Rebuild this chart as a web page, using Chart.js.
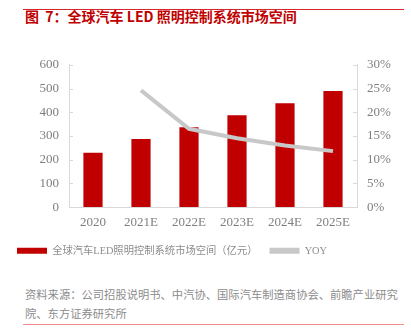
<!DOCTYPE html>
<html>
<head>
<meta charset="utf-8">
<script src="https://cdn.jsdelivr.net/npm/chart.js@4/dist/chart.umd.min.js"></script>
<style>
  html, body { margin: 0; padding: 0; background: #fff; }
  #wrap { position: relative; width: 411px; height: 334px; overflow: hidden; }
  #topline { position: absolute; left: 23px; top: 9px; width: 381px; height: 1px; background: #d9262e; }
  #title { position: absolute; left: 25px; top: 6px; font: bold 14px "Noto Sans CJK SC", sans-serif; color: #c00000; white-space: pre; }
  #box { position: absolute; left: 0; top: 47px; width: 411px; height: 219px; }
  #source { position: absolute; left: 25px; top: 285px; width: 385px; font: 11.3px/19px "Noto Sans CJK SC", sans-serif; color: #8c8c8c; }
  #bottomline { position: absolute; left: 23px; top: 324px; width: 381px; height: 1px; background: #f08c8c; }
</style>
</head>
<body>
<div id="wrap">
  <div id="topline"></div>
  <div id="title">图  7：全球汽车 LED 照明控制系统市场空间</div>
  <div id="box"><canvas id="chart"></canvas></div>
  <div id="source">资料来源：公司招股说明书、中汽协、国际汽车制造商协会、前瞻产业研究院、东方证券研究所</div>
  <div id="bottomline"></div>
</div>
<script>
var years = ["2020", "2021E", "2022E", "2023E", "2024E", "2025E"];
var marketSize = [229, 287, 337, 387, 438, 490];
var yoy = [null, 24.6, 16.5, 14.5, 13.0, 11.8];
var leftTicks = [0, 100, 200, 300, 400, 500, 600];
var rightTicks = [0, 5, 10, 15, 20, 25, 30];

var axisColor = '#d9d9d9';
var tickFont = { family: '"Liberation Serif", "Noto Sans CJK SC", serif', size: 13 };

// short tick marks pointing into the plot, like the original
var innerTicks = {
    id: 'innerTicks',
    afterDraw: function (chart) {
        var ctx = chart.ctx;
        var area = chart.chartArea;
        ctx.save();
        ctx.strokeStyle = axisColor;
        ctx.lineWidth = 1;
        leftTicks.forEach(function (v) {
            var y = Math.round(chart.scales.y.getPixelForValue(v)) + 0.5;
            ctx.beginPath();
            ctx.moveTo(area.left, y);
            ctx.lineTo(area.left + 4, y);
            ctx.stroke();
        });
        rightTicks.forEach(function (v) {
            var y = Math.round(chart.scales.y1.getPixelForValue(v)) + 0.5;
            ctx.beginPath();
            ctx.moveTo(area.right, y);
            ctx.lineTo(area.right - 4, y);
            ctx.stroke();
        });
        ctx.restore();
    }
};

new Chart(document.getElementById('chart'), {
    type: 'bar',
    data: {
        labels: years,
        datasets: [{
            label: '全球汽车LED照明控制系统市场空间（亿元）',
            data: marketSize,
            backgroundColor: '#c00000',
            borderWidth: 0,
            categoryPercentage: 1,
            barPercentage: 0.4,
            yAxisID: 'y',
            order: 2
        }, {
            type: 'line',
            label: 'YOY',
            data: yoy,
            borderColor: '#c8c8c8',
            backgroundColor: '#c8c8c8',
            borderWidth: 4,
            pointRadius: 0,
            tension: 0,
            yAxisID: 'y1',
            order: 1
        }]
    },
    options: {
        responsive: true,
        maintainAspectRatio: false,
        animation: false,
        layout: { padding: { left: 5, right: 0, top: 5, bottom: 0 } },
        plugins: {
            tooltip: { enabled: false },
            legend: {
                position: 'bottom',
                align: 'start',
                labels: {
                    boxWidth: 30,
                    boxHeight: 6,
                    padding: 12,
                    color: '#8c8c8c',
                    font: { family: '"Liberation Serif", "Noto Sans CJK SC", serif', size: 10.3 },
                    generateLabels: function (chart) {
                        return chart.data.datasets.map(function (ds, i) {
                            return {
                                text: ds.label,
                                fillStyle: i === 0 ? '#c00000' : '#c8c8c8',
                                strokeStyle: 'transparent',
                                lineWidth: 0,
                                datasetIndex: i,
                                fontColor: '#8c8c8c'
                            };
                        });
                    }
                }
            }
        },
        scales: {
            x: {
                grid: { display: false, drawTicks: false },
                border: { color: axisColor },
                afterFit: function (axis) { axis.height -= 5; },
                ticks: { color: '#7f7f7f', font: tickFont, padding: 8 }
            },
            y: {
                position: 'left',
                min: 0,
                max: 600,
                grid: { display: false, drawTicks: false },
                border: { color: axisColor },
                afterBuildTicks: function (axis) {
                    axis.ticks = leftTicks.map(function (v) { return { value: v }; });
                },
                afterFit: function (axis) { axis.width = 64; },
                ticks: { color: '#7f7f7f', font: tickFont, padding: 10, autoSkip: false }
            },
            y1: {
                position: 'right',
                min: 0,
                max: 30,
                grid: { display: false, drawTicks: false },
                border: { color: axisColor },
                afterBuildTicks: function (axis) {
                    axis.ticks = rightTicks.map(function (v) { return { value: v }; });
                },
                afterFit: function (axis) { axis.width = 54; },
                ticks: {
                    color: '#7f7f7f',
                    font: tickFont,
                    padding: 10,
                    autoSkip: false,
                    callback: function (v) { return v + '%'; }
                }
            }
        }
    },
    plugins: [innerTicks]
});
</script>
</body>
</html>
